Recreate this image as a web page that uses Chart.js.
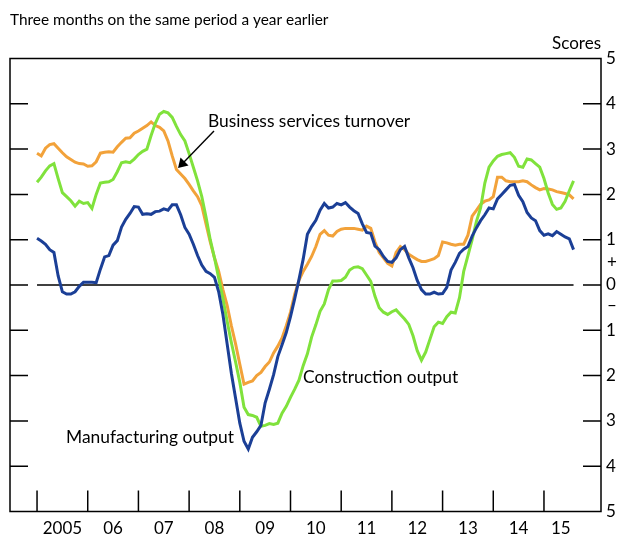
<!DOCTYPE html>
<html>
<head>
<meta charset="utf-8">
<script src="https://cdn.jsdelivr.net/npm/chart.js@4.4.1/dist/chart.umd.min.js"></script>
<style>
  html, body { margin: 0; padding: 0; background: #fff; }
  #wrap { width: 624px; height: 549px; }
</style>
</head>
<body>
<div id="wrap"><canvas id="chart" width="624" height="549"></canvas></div>
<script>
// monthly, Jan 2005 .. Aug 2015 (x = months since Jan 2005)
var yearLabels = ['2005', '06', '07', '08', '09', '10', '11', '12', '13', '14', '15'];
var yTicks = [5, 4, 3, 2, 1, 0, -1, -2, -3, -4, -5];

var services = [
  2.91, 2.85, 3.02, 3.10, 3.12, 3.02, 2.92, 2.83, 2.77, 2.71, 2.68, 2.67,
  2.62, 2.63, 2.72, 2.91, 2.93, 2.94, 2.93, 3.05, 3.15, 3.24, 3.25, 3.35,
  3.40, 3.46, 3.52, 3.60, 3.52, 3.48, 3.40, 3.18, 2.85, 2.55, 2.45, 2.35,
  2.22, 2.08, 1.95, 1.75, 1.35, 0.95, 0.60, 0.30, -0.10, -0.45, -0.90, -1.30,
  -1.75, -2.19, -2.15, -2.12, -2.00, -1.93, -1.80, -1.70, -1.50, -1.35, -1.17, -0.90,
  -0.60, -0.20, 0.10, 0.30, 0.46, 0.63, 0.85, 1.12, 1.20, 1.10, 1.08, 1.18,
  1.23, 1.25, 1.25, 1.25, 1.23, 1.21, 1.30, 1.25, 0.95, 0.72, 0.60, 0.48,
  0.42, 0.72, 0.85, 0.78, 0.68, 0.62, 0.56, 0.52, 0.52, 0.55, 0.58, 0.65,
  0.95, 0.93, 0.90, 0.88, 0.90, 0.90, 1.10, 1.52, 1.65, 1.78, 1.85, 1.88,
  1.95, 2.38, 2.38, 2.30, 2.28, 2.28, 2.28, 2.30, 2.28, 2.21, 2.15, 2.10,
  2.13, 2.12, 2.10, 2.06, 2.04, 2.02, 1.99, 1.90
];

var construction = [
  2.27, 2.38, 2.52, 2.63, 2.68, 2.35, 2.04, 1.95, 1.86, 1.74, 1.85, 1.80,
  1.82, 1.69, 2.00, 2.25, 2.27, 2.28, 2.33, 2.50, 2.70, 2.72, 2.70, 2.78,
  2.88, 2.95, 3.00, 3.30, 3.57, 3.77, 3.83, 3.80, 3.70, 3.50, 3.32, 3.18,
  2.90, 2.60, 2.30, 1.95, 1.50, 1.00, 0.60, 0.15, -0.30, -0.80, -1.27, -1.70,
  -2.15, -2.70, -2.86, -2.88, -2.92, -3.12, -3.10, -3.06, -3.08, -3.05, -2.83, -2.68,
  -2.48, -2.30, -2.10, -1.78, -1.52, -1.15, -0.88, -0.58, -0.42, -0.10, 0.09, 0.09,
  0.10, 0.17, 0.33, 0.39, 0.40, 0.36, 0.22, 0.08, -0.25, -0.50, -0.60, -0.65,
  -0.59, -0.55, -0.65, -0.75, -0.87, -1.12, -1.45, -1.66, -1.48, -1.20, -0.92, -0.82,
  -0.85, -0.70, -0.60, -0.62, -0.28, 0.30, 0.65, 1.00, 1.40, 1.70, 2.25, 2.60,
  2.74, 2.84, 2.88, 2.90, 2.92, 2.82, 2.62, 2.60, 2.78, 2.76, 2.68, 2.60,
  2.35, 2.03, 1.78, 1.67, 1.70, 1.85, 2.08, 2.30
];

var manufacturing = [
  1.03, 0.97, 0.90, 0.78, 0.72, 0.20, -0.15, -0.20, -0.20, -0.15, -0.03, 0.06,
  0.06, 0.06, 0.05, 0.35, 0.62, 0.65, 0.88, 0.98, 1.28, 1.45, 1.58, 1.73,
  1.72, 1.56, 1.57, 1.56, 1.62, 1.63, 1.68, 1.65, 1.77, 1.77, 1.55, 1.27,
  1.12, 0.90, 0.65, 0.44, 0.30, 0.25, 0.17, -0.15, -0.65, -1.30, -1.95, -2.50,
  -3.05, -3.45, -3.62, -3.36, -3.24, -3.10, -2.60, -2.30, -1.98, -1.58, -1.32, -1.05,
  -0.70, -0.30, 0.12, 0.57, 1.12, 1.29, 1.43, 1.65, 1.80, 1.70, 1.72, 1.80,
  1.77, 1.82, 1.72, 1.64, 1.58, 1.35, 1.16, 1.14, 0.86, 0.78, 0.63, 0.52,
  0.50, 0.60, 0.78, 0.85, 0.60, 0.38, 0.10, -0.10, -0.20, -0.20, -0.16, -0.20,
  -0.19, -0.05, 0.33, 0.50, 0.70, 0.79, 0.85, 1.08, 1.26, 1.42, 1.55, 1.70,
  1.68, 1.90, 2.00, 2.10, 2.20, 2.22, 1.98, 1.84, 1.60, 1.48, 1.42, 1.20,
  1.10, 1.13, 1.09, 1.18, 1.12, 1.06, 1.02, 0.78
];

function toPoints(arr) {
  return arr.map(function(v, i) { return { x: i, y: v }; });
}

var FONT = 'Lato, "Open Sans", sans-serif';

// frame, inner ticks, labels and notes
var decorations = {
  id: 'decorations',
  afterDatasetsDraw: function(chart) {
    var ctx = chart.ctx;
    var area = chart.chartArea;
    var xs = chart.scales.x, ys = chart.scales.y;
    var lastX = services.length - 1;
    ctx.save();
    ctx.strokeStyle = '#000';
    ctx.fillStyle = '#000';
    ctx.lineWidth = 1.5;
    ctx.strokeRect(area.left, area.top, area.right - area.left, area.bottom - area.top);

    // y ticks inside both sides
    yTicks.forEach(function(v) {
      var y = ys.getPixelForValue(v);
      if (v !== 5 && v !== -5) {
        ctx.beginPath();
        ctx.moveTo(area.left, y); ctx.lineTo(area.left + 18, y);
        ctx.moveTo(area.right - 18, y); ctx.lineTo(area.right, y);
        ctx.stroke();
      }
      ctx.font = '17px ' + FONT;
      ctx.textAlign = 'left';
      ctx.textBaseline = 'middle';
      ctx.fillText(String(Math.abs(v)), area.right + 5, y);
    });
    ctx.fillText('+', area.right + 6, ys.getPixelForValue(0.5));
    ctx.fillText('\u2013', area.right + 6, ys.getPixelForValue(-0.45));

    // year boundary ticks and labels
    for (var k = 0; k < yearLabels.length; k++) {
      var xt = xs.getPixelForValue(k * 12);
      ctx.beginPath();
      ctx.moveTo(xt, area.bottom); ctx.lineTo(xt, area.bottom - 21);
      ctx.stroke();
      var mid = Math.min(k * 12 + 6, (k * 12 + lastX) / 2 + 0.5);
      ctx.textAlign = 'center';
      ctx.textBaseline = 'middle';
      ctx.fillText(yearLabels[k], xs.getPixelForValue(mid), area.bottom + 17);
    }

    ctx.textAlign = 'right';
    ctx.fillText('Scores', area.right, 44);
    ctx.textAlign = 'left';
    ctx.font = '15.4px ' + FONT;
    ctx.fillText('Three months on the same period a year earlier', 10, 20);

    ctx.font = '17.4px ' + FONT;
    ctx.fillText('Business services turnover', 208, 121);
    ctx.fillText('Construction output', 303, 377);
    ctx.fillText('Manufacturing output', 66, 437);

    // arrow to services line
    ctx.lineWidth = 1.4;
    ctx.beginPath();
    ctx.moveTo(214, 131); ctx.lineTo(184, 162);
    ctx.stroke();
    ctx.beginPath();
    ctx.moveTo(178, 168); ctx.lineTo(180.5, 157.5); ctx.lineTo(188.5, 165.5);
    ctx.closePath();
    ctx.fill();
    ctx.restore();
  }
};

var lineStyle = { borderWidth: 3, pointRadius: 0, tension: 0, fill: false };

new Chart(document.getElementById('chart'), {
  type: 'line',
  data: {
    datasets: [
      Object.assign({ label: 'Manufacturing output', data: toPoints(manufacturing), borderColor: '#1b3f96', order: 1 }, lineStyle),
      Object.assign({ label: 'Construction output', data: toPoints(construction), borderColor: '#80e23c', order: 2 }, lineStyle),
      Object.assign({ label: 'Business services turnover', data: toPoints(services), borderColor: '#f2a23a', order: 3 }, lineStyle),
      { label: 'zero', data: [{ x: 0, y: 0 }, { x: services.length - 1, y: 0 }], borderColor: '#000', borderWidth: 1.3, pointRadius: 0, order: 10 }
    ]
  },
  options: {
    responsive: false,
    animation: false,
    layout: { padding: { left: 10, right: 23, top: 58.5, bottom: 37.5 } },
    plugins: { legend: { display: false }, tooltip: { enabled: false }, title: { display: false } },
    scales: {
      x: { type: 'linear', min: -6.4, max: 133.5, display: false },
      y: { min: -5, max: 5, display: false }
    }
  },
  plugins: [decorations]
});
</script>
</body>
</html>
